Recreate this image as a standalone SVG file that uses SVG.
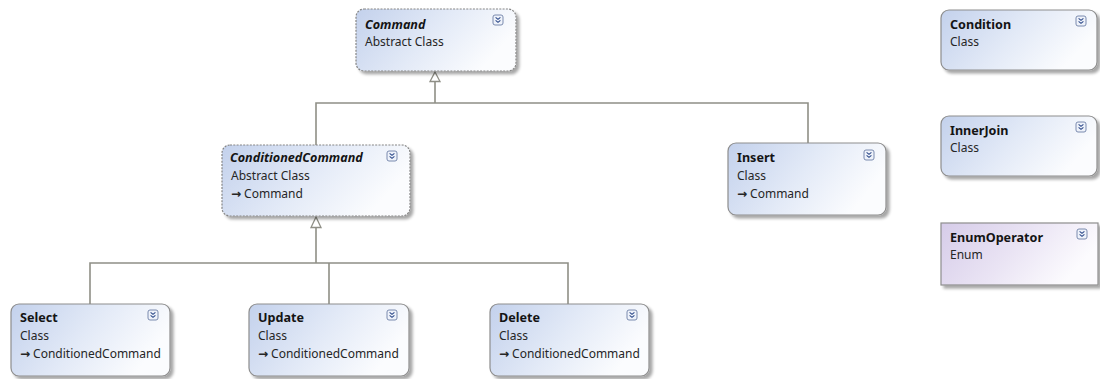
<svg xmlns="http://www.w3.org/2000/svg" width="1100" height="379" viewBox="0 0 1100 379">
  <defs>
    <linearGradient id="classFill" x1="0" y1="0" x2="1" y2="0.35">
      <stop offset="0" stop-color="#c3d1ec"/>
      <stop offset="0.55" stop-color="#e3eaf7"/>
      <stop offset="1" stop-color="#fbfcfe"/>
    </linearGradient>
    <linearGradient id="enumFill" x1="0" y1="0" x2="1" y2="0.35">
      <stop offset="0" stop-color="#d6cce9"/>
      <stop offset="0.55" stop-color="#eae4f4"/>
      <stop offset="1" stop-color="#fcfbfe"/>
    </linearGradient>
    <filter id="shadow" x="-10%" y="-10%" width="125%" height="130%">
      <feGaussianBlur in="SourceAlpha" stdDeviation="1.5"/>
      <feOffset dx="3" dy="3" result="b"/>
      <feComponentTransfer><feFuncA type="linear" slope="0.35"/></feComponentTransfer>
      <feMerge><feMergeNode/><feMergeNode in="SourceGraphic"/></feMerge>
    </filter>
    <!-- collapse toggle glyph -->
    <g id="toggle">
      <rect x="0" y="0" width="10" height="10" rx="2" fill="#eef2fa" stroke="#6d7fa6" stroke-width="0.9"/>
      <path d="M2.6 2.4 L5 4.4 L7.4 2.4 M2.6 5.4 L5 7.4 L7.4 5.4" fill="none" stroke="#2e4a8a" stroke-width="1.1"/>
    </g>
  </defs>
  <style>
    .box { fill: url(#classFill); stroke: #8e8e8e; stroke-width: 1.2; filter: url(#shadow); }
    .abstract { stroke-dasharray: 2 1.3; stroke: #858585; }
    .enum { fill: url(#enumFill); }
    .title { font-family: "Noto Sans", "Open Sans", sans-serif; font-size: 12.6px; font-weight: bold; fill: #141414; }
    .abs-title { font-style: italic; }
    .sub { font-family: "Noto Sans", "Open Sans", sans-serif; font-size: 12px; fill: #262626; }
    .arr { font-family: "DejaVu Sans", sans-serif; font-size: 12px; font-weight: bold; }
    .link { fill: none; stroke: #8f8f86; stroke-width: 1.6; }
    .head { fill: #ffffff; stroke: #8f8f86; stroke-width: 1.3; }
  </style>

  <g id="connectors">
    <!-- ConditionedCommand, Insert -> Command -->
    <path class="link" d="M435 81 V103 M316 145 V103 H808 V143"/>
    <path class="head" d="M435 72 L440 81.5 L430 81.5 Z"/>
    <!-- Select, Update, Delete -> ConditionedCommand -->
    <path class="link" d="M316 227 V263 M90 304 V263 H568 V304 M329 263 V304"/>
    <path class="head" d="M316 217 L321 227.5 L311 227.5 Z"/>
  </g>

  <g id="Command">
    <rect class="box abstract" x="356" y="9" width="160" height="62" rx="8"/>
    <text class="title abs-title" x="365" y="29">Command</text>
    <text class="sub" x="365" y="46">Abstract Class</text>
    <use href="#toggle" x="493" y="15"/>
  </g>

  <g id="ConditionedCommand">
    <rect class="box abstract" x="222" y="145" width="188" height="71" rx="8"/>
    <text class="title abs-title" x="230" y="162">ConditionedCommand</text>
    <text class="sub" x="231" y="180">Abstract Class</text>
    <text class="sub" x="231" y="198"><tspan class="arr">→</tspan><tspan dx="3">Command</tspan></text>
    <use href="#toggle" x="387" y="151"/>
  </g>

  <g id="Insert">
    <rect class="box" x="728" y="143" width="158" height="72" rx="8"/>
    <text class="title" x="737" y="162">Insert</text>
    <text class="sub" x="737" y="180">Class</text>
    <text class="sub" x="737" y="198"><tspan class="arr">→</tspan><tspan dx="3">Command</tspan></text>
    <use href="#toggle" x="864" y="150"/>
  </g>

  <g id="Select">
    <rect class="box" x="11" y="304" width="159" height="72" rx="8"/>
    <text class="title" x="20" y="322">Select</text>
    <text class="sub" x="20" y="340">Class</text>
    <text class="sub" x="20" y="358"><tspan class="arr">→</tspan><tspan dx="3">ConditionedCommand</tspan></text>
    <use href="#toggle" x="148" y="310"/>
  </g>

  <g id="Update">
    <rect class="box" x="249" y="304" width="160" height="72" rx="8"/>
    <text class="title" x="258" y="322">Update</text>
    <text class="sub" x="258" y="340">Class</text>
    <text class="sub" x="258" y="358"><tspan class="arr">→</tspan><tspan dx="3">ConditionedCommand</tspan></text>
    <use href="#toggle" x="387" y="310"/>
  </g>

  <g id="Delete">
    <rect class="box" x="490" y="304" width="159" height="72" rx="8"/>
    <text class="title" x="499" y="322">Delete</text>
    <text class="sub" x="499" y="340">Class</text>
    <text class="sub" x="499" y="358"><tspan class="arr">→</tspan><tspan dx="3">ConditionedCommand</tspan></text>
    <use href="#toggle" x="627" y="310"/>
  </g>

  <g id="Condition">
    <rect class="box" x="941" y="10" width="156" height="60" rx="8"/>
    <text class="title" x="950" y="29">Condition</text>
    <text class="sub" x="950" y="46">Class</text>
    <use href="#toggle" x="1076" y="16"/>
  </g>

  <g id="InnerJoin">
    <rect class="box" x="941" y="116" width="156" height="60" rx="8"/>
    <text class="title" x="950" y="135">InnerJoin</text>
    <text class="sub" x="950" y="152">Class</text>
    <use href="#toggle" x="1076" y="122"/>
  </g>

  <g id="EnumOperator">
    <rect class="box enum" x="941" y="223" width="157" height="62"/>
    <text class="title" x="950" y="242">EnumOperator</text>
    <text class="sub" x="950" y="259">Enum</text>
    <use href="#toggle" x="1077" y="229"/>
  </g>
</svg>
